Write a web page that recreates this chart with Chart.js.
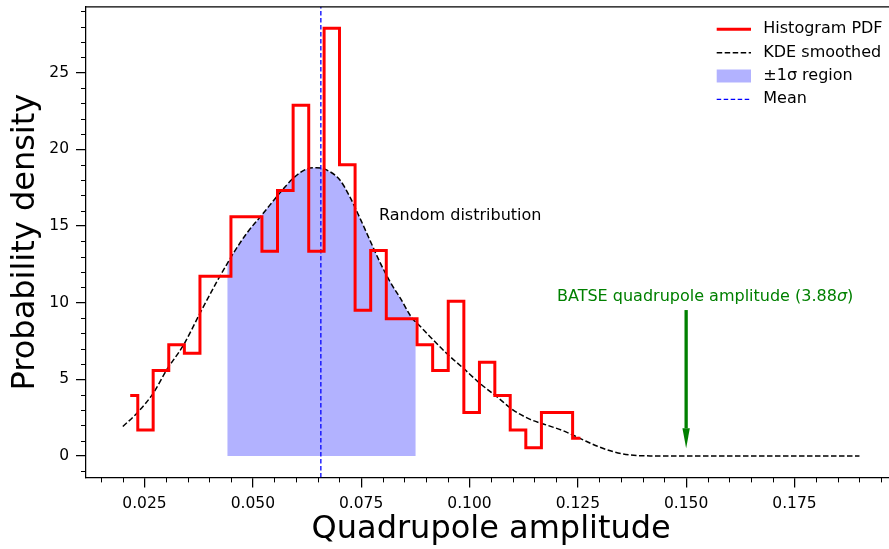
<!DOCTYPE html>
<html>
<head>
<meta charset="utf-8">
<script src="https://cdn.jsdelivr.net/npm/chart.js@4.4.1/dist/chart.umd.min.js"></script>
<style>
  html, body { margin: 0; padding: 0; background: #fff; overflow: hidden; }
  #wrap { width: 905px; height: 549px; }
</style>
</head>
<body>
<div id="wrap"><canvas id="chart" width="905" height="549"></canvas></div>
<script>
/* ── Data ── */

const BIN_CENTERS = [0.0217, 0.0252, 0.0288, 0.0324, 0.0360, 0.0396, 0.0432, 0.0467, 0.0503, 0.0539,
                     0.0575, 0.0611, 0.0647, 0.0682, 0.0718, 0.0754, 0.0790, 0.0826, 0.0861, 0.0897,
                     0.0933, 0.0969, 0.1005, 0.1041, 0.1076, 0.1112, 0.1148, 0.1184, 0.1220, 0.1256];
const HIST_PDF    = [3.94, 1.70, 5.58, 7.25, 6.71, 11.72, 11.72, 15.60, 15.60, 13.35,
                     17.32, 22.88, 13.35, 27.90, 19.00, 9.50, 13.40, 8.95, 8.95, 7.25,
                     5.58, 10.09, 2.83, 6.12, 3.94, 1.70, 0.54, 2.83, 2.83, 1.16];

const KDE_X = [0.0200, 0.0236, 0.0270, 0.0301, 0.0340, 0.0378, 0.0417, 0.0441, 0.0455, 0.0486,
               0.0524, 0.0563, 0.0593, 0.0624, 0.0647, 0.0670, 0.0701, 0.0724, 0.0747, 0.0770,
               0.0793, 0.0817, 0.0840, 0.0870, 0.0876, 0.0909, 0.0947, 0.0986, 0.1024, 0.1063,
               0.1101, 0.1140, 0.1178, 0.1216, 0.1255, 0.1294, 0.1332, 0.1370, 0.1409, 0.1500,
               0.1900];
const KDE_Y = [1.92, 2.90, 4.09, 5.61, 7.24, 9.31, 11.37, 12.55, 13.22, 14.53,
               15.83, 17.18, 18.11, 18.72, 18.81, 18.66, 18.00, 16.90, 15.53, 14.09,
               12.66, 11.35, 10.31, 8.90, 8.75, 7.78, 6.70, 5.72, 4.74, 3.87,
               3.00, 2.39, 2.02, 1.65, 1.15, 0.65, 0.28, 0.07, 0.01, 0.00,
               0.00];

const MEAN     = 0.0657;
const SIGMA_LO = 0.0441;
const SIGMA_HI = 0.0876;

const BATSE_X    = 0.150;
const ARROW_FROM = 9.52;
const ARROW_TO   = 0.50;

const X_TICKS       = [0.025, 0.050, 0.075, 0.100, 0.125, 0.150, 0.175];
const X_TICK_LABELS = ['0.025', '0.050', '0.075', '0.100', '0.125', '0.150', '0.175'];
const Y_TICKS       = [0, 5, 10, 15, 20, 25];

const X_MIN = 0.0115, X_MAX = 0.1985;
const Y_MIN = -1.395, Y_MAX = 29.3;

const LEGEND_LABELS = ['Histogram PDF', 'KDE smoothed', '±1σ region', 'Mean'];

/* ── Styling ── */

const FONT  = 'DejaVu Sans';
const RED   = '#ff0000';
const BLUE  = '#0000ff';
const GREEN = '#008000';
const SHADE = 'rgba(0,0,255,0.3)';

const histPts  = BIN_CENTERS.map((x, i) => ({ x, y: HIST_PDF[i] }));
const kdePts   = KDE_X.map((x, i) => ({ x, y: KDE_Y[i] }));
const sigmaPts = kdePts.filter(p => p.x >= SIGMA_LO && p.x <= SIGMA_HI);

// minor ticks, arrow, notes, legend and top/right spines
const extras = {
    id: 'extras',
    afterDraw(chart) {
        const { ctx, chartArea: a, scales: { x, y } } = chart;
        ctx.save();

        ctx.strokeStyle = '#000';
        ctx.lineWidth = 1.25;
        ctx.beginPath();
        ctx.moveTo(a.left, a.top); ctx.lineTo(a.right, a.top); ctx.lineTo(a.right, a.bottom);
        ctx.stroke();

        ctx.lineWidth = 1;
        ctx.beginPath();
        for (let k = 3; k <= 39; k++) {
            if (k % 5 === 0) continue;
            const px = Math.round(x.getPixelForValue(k * 0.005)) + 0.5;
            ctx.moveTo(px, a.bottom); ctx.lineTo(px, a.bottom + 5);
        }
        for (let k = -1; k <= 29; k++) {
            if (k % 5 === 0) continue;
            const py = Math.round(y.getPixelForValue(k)) + 0.5;
            ctx.moveTo(a.left, py); ctx.lineTo(a.left - 5, py);
        }
        ctx.stroke();

        // BATSE arrow
        const ax = x.getPixelForValue(BATSE_X);
        const y0 = y.getPixelForValue(ARROW_FROM);
        const y1 = y.getPixelForValue(ARROW_TO);
        const headLen = 20;
        ctx.fillStyle = GREEN;
        ctx.fillRect(ax - 1.65, y0, 3.3, (y1 - headLen) - y0);
        ctx.beginPath();
        ctx.moveTo(ax - 3.7, y1 - headLen);
        ctx.lineTo(ax + 3.7, y1 - headLen);
        ctx.lineTo(ax, y1);
        ctx.closePath();
        ctx.fill();

        // notes
        ctx.textBaseline = 'middle';
        ctx.textAlign = 'left';
        ctx.font = `16px "${FONT}"`;
        ctx.fillStyle = '#000';
        ctx.fillText('Random distribution', x.getPixelForValue(0.0791), y.getPixelForValue(15.66));

        ctx.fillStyle = GREEN;
        let tx = x.getPixelForValue(0.1202);
        const ty = y.getPixelForValue(10.39);
        const partA = 'BATSE quadrupole amplitude (3.88';
        ctx.fillText(partA, tx, ty);
        tx += ctx.measureText(partA).width;
        ctx.font = `oblique 16px "${FONT}"`;
        ctx.fillText('σ', tx, ty);
        tx += ctx.measureText('σ').width;
        ctx.font = `16px "${FONT}"`;
        ctx.fillText(')', tx, ty);

        // legend
        const hx0 = a.right - 179.6, hx1 = a.right - 145.3, textX = a.right - 133;
        const rows = [22.5, 45.9, 69.2, 92.5].map(d => a.top + d);
        ctx.strokeStyle = RED; ctx.lineWidth = 3; ctx.setLineDash([]);
        ctx.beginPath(); ctx.moveTo(hx0, rows[0]); ctx.lineTo(hx1, rows[0]); ctx.stroke();
        ctx.strokeStyle = '#000'; ctx.lineWidth = 1.5; ctx.setLineDash([5.5, 2.5]);
        ctx.beginPath(); ctx.moveTo(hx0, rows[1]); ctx.lineTo(hx1, rows[1]); ctx.stroke();
        ctx.setLineDash([]);
        ctx.fillStyle = SHADE;
        ctx.fillRect(hx0, rows[2] - 6.5, hx1 - hx0, 13);
        ctx.strokeStyle = BLUE; ctx.lineWidth = 1.3; ctx.setLineDash([4.5, 2.5]);
        ctx.beginPath(); ctx.moveTo(hx0, rows[3]); ctx.lineTo(hx1, rows[3]); ctx.stroke();
        ctx.setLineDash([]);
        ctx.fillStyle = '#000';
        ctx.font = `16px "${FONT}"`;
        LEGEND_LABELS.forEach((t, i) => ctx.fillText(t, textX, rows[i]));

        ctx.restore();
    }
};

new Chart(document.getElementById('chart'), {
    type: 'line',
    data: {
        datasets: [
            {
                label: LEGEND_LABELS[0],
                data: histPts,
                stepped: 'middle',
                borderColor: RED,
                borderWidth: 3,
                pointRadius: 0,
                fill: false,
                order: 1,
            },
            {
                label: LEGEND_LABELS[3],
                data: [{ x: MEAN, y: Y_MIN }, { x: MEAN, y: Y_MAX }],
                borderColor: BLUE,
                borderWidth: 1.3,
                borderDash: [4.5, 2.5],
                pointRadius: 0,
                fill: false,
                order: 2,
            },
            {
                label: LEGEND_LABELS[1],
                data: kdePts,
                cubicInterpolationMode: 'monotone',
                borderColor: '#000',
                borderWidth: 1.5,
                borderDash: [5.5, 2.5],
                pointRadius: 0,
                fill: false,
                order: 3,
            },
            {
                label: LEGEND_LABELS[2],
                data: sigmaPts,
                cubicInterpolationMode: 'monotone',
                borderWidth: 0,
                borderColor: 'transparent',
                backgroundColor: SHADE,
                pointRadius: 0,
                fill: 'origin',
                order: 4,
            },
        ],
    },
    options: {
        responsive: false,
        animation: false,
        events: [],
        layout: { padding: { top: 6.8, right: 8.7, bottom: 0, left: 0 } },
        plugins: {
            legend:  { display: false },
            tooltip: { enabled: false },
        },
        scales: {
            x: {
                type: 'linear',
                min: X_MIN,
                max: X_MAX,
                afterBuildTicks: s => { s.ticks = X_TICKS.map(v => ({ value: v })); },
                afterFit: s => { s.height = 71.6; s.paddingLeft = 0; s.paddingRight = 0; },
                ticks: {
                    color: '#000',
                    padding: 7,
                    maxRotation: 0,
                    font: { family: FONT, size: 15.5 },
                    callback: v => X_TICK_LABELS[X_TICKS.findIndex(t => Math.abs(t - v) < 1e-9)],
                },
                grid:   { drawOnChartArea: false, drawTicks: true, tickLength: 10, color: '#000', lineWidth: 1.25 },
                border: { display: true, color: '#000', width: 1.25 },
                title:  {
                    display: true,
                    text: 'Quadrupole amplitude',
                    color: '#000',
                    font: { family: FONT, size: 32 },
                    padding: { top: 0, bottom: 0 },
                },
            },
            y: {
                type: 'linear',
                min: Y_MIN,
                max: Y_MAX,
                afterBuildTicks: s => { s.ticks = Y_TICKS.map(v => ({ value: v })); },
                afterFit: s => { s.width = 86; s.paddingTop = 0; s.paddingBottom = 0; },
                ticks: {
                    color: '#000',
                    padding: 7,
                    font: { family: FONT, size: 15.5 },
                    callback: v => String(v),
                },
                grid:   { drawOnChartArea: false, drawTicks: true, tickLength: 10, color: '#000', lineWidth: 1.25 },
                border: { display: true, color: '#000', width: 1.25 },
                title:  {
                    display: true,
                    text: 'Probability density',
                    color: '#000',
                    font: { family: FONT, size: 32 },
                    padding: { top: 6.4, bottom: 0 },
                },
            },
        },
    },
    plugins: [extras],
});
</script>
</body>
</html>
